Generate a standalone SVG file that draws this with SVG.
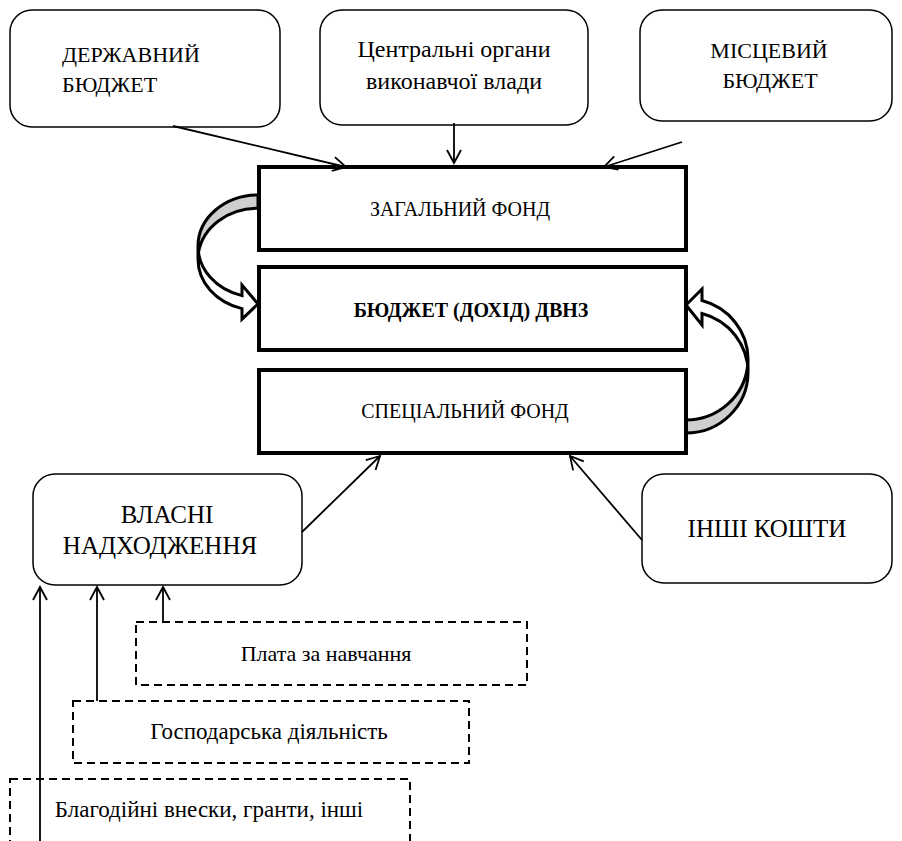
<svg xmlns="http://www.w3.org/2000/svg" width="902" height="841" viewBox="0 0 902 841">
<style>
.rbox{fill:#fff;stroke:#000;stroke-width:1.5}
.fbox{fill:#fff;stroke:#000;stroke-width:4}
.dbox{fill:#fff;stroke:#000;stroke-width:2;stroke-dasharray:8 5}
.t{font-family:"Liberation Serif","DejaVu Serif",serif;fill:#000;text-anchor:middle}
.s{text-anchor:start}
.conn{stroke:#000;stroke-width:1.8;fill:none;marker-end:url(#ah)}
.back{fill:#cfcfcf;stroke:none}
.front{fill:#fff;stroke:none}
.outl{fill:none;stroke:#000;stroke-width:3;stroke-linejoin:miter}
</style>
<defs>
<marker id="ah" viewBox="0 0 16 16" refX="14" refY="8" markerWidth="16" markerHeight="16" markerUnits="userSpaceOnUse" orient="auto">
<path d="M1,1 L14,8 L1,15" fill="none" stroke="#000" stroke-width="1.8"/>
</marker>
</defs>
<rect width="902" height="841" fill="#fff"/>

<g id="curved-left">
<path class="back" d="M258,208.25 A60,51.25 0 0 0 198.48,252.75 A60,51.25 0 0 1 258,195 Z"/>
<path class="front" d="M198,246.25 A60,51.25 0 0 0 242,295.65 L242,285.15 L258,304 L242,319.15 L242,308.65 A60,51.25 0 0 1 198,259.25 Z"/>
<path class="outl" d="M198,246.25 A60,51.25 0 0 0 242,295.65 L242,285.15 L258,304 L242,319.15 L242,308.65 A60,51.25 0 0 1 198,259.25 L198,246.25 A60,51.25 0 0 1 258,195 L258,208.25 A60,51.25 0 0 0 198.48,252.75"/>
</g>
<g id="curved-right" transform="rotate(180 717 360)">
<path class="back" d="M748,300 A62,60.75 0 0 0 686.36,354.25 A62,60.75 0 0 1 748,287 Z"/>
<path class="front" d="M686,347.75 A62,60.75 0 0 0 732,406.44 L732,394.94 L748,415 L732,430.94 L732,419.44 A62,60.75 0 0 1 686,360.75 Z"/>
<path class="outl" d="M686,347.75 A62,60.75 0 0 0 732,406.44 L732,394.94 L748,415 L732,430.94 L732,419.44 A62,60.75 0 0 1 686,360.75 L686,347.75 A62,60.75 0 0 1 748,287 L748,300 A62,60.75 0 0 0 686.36,354.25"/>
</g>

<g id="derzh">
<rect class="rbox" x="10" y="10" width="270" height="117" rx="22"/>
<text class="t s" x="62" y="62" font-size="22">ДЕРЖАВНИЙ</text>
<text class="t s" x="62" y="92" font-size="22">БЮДЖЕТ</text>
</g>
<g id="central">
<rect class="rbox" x="320" y="10" width="268" height="115" rx="22"/>
<text class="t" x="454" y="57" font-size="24">Центральні органи</text>
<text class="t" x="454" y="89" font-size="24">виконавчої влади</text>
</g>
<g id="mists">
<rect class="rbox" x="640" y="10" width="252" height="111" rx="22"/>
<text class="t" x="769" y="58" font-size="22">МІСЦЕВИЙ</text>
<text class="t" x="770" y="88" font-size="22">БЮДЖЕТ</text>
</g>

<g id="zagal">
<rect class="fbox" x="259" y="167" width="427" height="83"/>
<text class="t" x="460" y="216" font-size="20">ЗАГАЛЬНИЙ ФОНД</text>
</g>
<g id="budget">
<rect class="fbox" x="259" y="267" width="427" height="83"/>
<text class="t" x="471" y="317" font-size="20" font-weight="bold">БЮДЖЕТ (ДОХІД) ДВНЗ</text>
</g>
<g id="spec">
<rect class="fbox" x="259" y="370" width="427" height="83"/>
<text class="t" x="465" y="418" font-size="20">СПЕЦІАЛЬНИЙ ФОНД</text>
</g>

<g id="vlasni">
<rect class="rbox" x="33" y="474" width="269" height="111" rx="22"/>
<text class="t" x="167" y="523" font-size="25">ВЛАСНІ</text>
<text class="t" x="160" y="554" font-size="25">НАДХОДЖЕННЯ</text>
</g>
<g id="inshi">
<rect class="rbox" x="642" y="474" width="250" height="109" rx="22"/>
<text class="t" x="767" y="537" font-size="25">ІНШІ КОШТИ</text>
</g>

<g id="plata">
<rect class="dbox" x="136" y="622" width="391" height="63"/>
<text class="t" x="326" y="661" font-size="22">Плата за навчання</text>
</g>
<g id="hosp">
<rect class="dbox" x="73" y="701" width="396" height="62"/>
<text class="t" x="269" y="739" font-size="23">Господарська діяльність</text>
</g>
<g id="blago">
<rect class="dbox" x="10" y="779" width="400" height="70"/>
<text class="t" x="209" y="817" font-size="23">Благодійні внески, гранти, інші</text>
</g>

<g id="connectors">
<line class="conn" x1="173" y1="126" x2="346" y2="167"/>
<line class="conn" x1="454" y1="123" x2="454" y2="163"/>
<line class="conn" x1="682" y1="142" x2="604" y2="167"/>
<line class="conn" x1="302" y1="532" x2="380" y2="456"/>
<line class="conn" x1="642" y1="540" x2="570" y2="456"/>
<line class="conn" x1="163" y1="622" x2="163" y2="587"/>
<line class="conn" x1="97" y1="701" x2="97" y2="587"/>
<line class="conn" x1="40" y1="841" x2="40" y2="587"/>
</g>
</svg>
